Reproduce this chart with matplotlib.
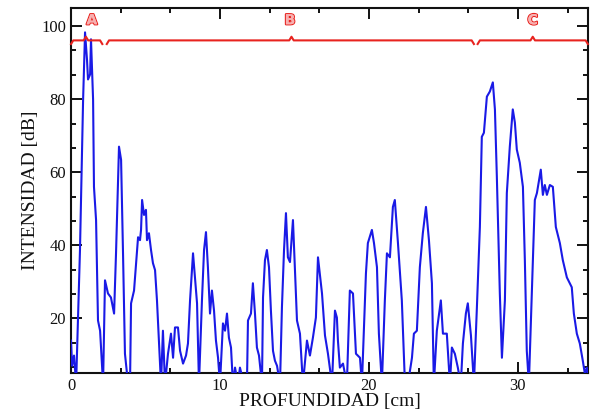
import numpy as np
import matplotlib
matplotlib.use("Agg")
import matplotlib.pyplot as plt
from matplotlib.ticker import MultipleLocator
import matplotlib.patheffects as pe

plt.rcParams['font.family'] = ['Liberation Serif', 'DejaVu Serif']

# profundidad [cm] e intensidad [dB]
profundidad = [0.00, 0.07, 0.20, 0.34, 0.60, 0.81, 0.94, 1.07, 1.14, 1.28, 1.34, 1.48, 1.54, 1.68,
               1.81, 1.95, 2.15, 2.28, 2.48, 2.68, 2.89, 3.02, 3.22, 3.36, 3.49, 3.62, 3.83, 3.96,
               4.03, 4.23, 4.50, 4.63, 4.70, 4.77, 4.90, 5.03, 5.10, 5.23, 5.37, 5.50, 5.64, 5.77,
               5.91, 6.04, 6.17, 6.31, 6.51, 6.71, 6.85, 6.98, 7.18, 7.32, 7.52, 7.72, 7.85, 7.99,
               8.19, 8.32, 8.46, 8.59, 8.79, 8.93, 9.06, 9.19, 9.33, 9.46, 9.60, 9.73, 9.87, 10.00,
               10.20, 10.34, 10.47, 10.60, 10.74, 10.87, 11.01, 11.21, 11.34, 11.61, 11.81, 11.88,
               12.08, 12.21, 12.35, 12.48, 12.62, 12.82, 12.89, 13.02, 13.15, 13.29, 13.42, 13.56,
               13.69, 13.83, 14.03, 14.16, 14.30, 14.43, 14.56, 14.70, 14.90, 15.17, 15.37, 15.57,
               15.84, 16.04, 16.24, 16.44, 16.58, 16.85, 17.05, 17.25, 17.52, 17.72, 17.85, 17.92,
               18.05, 18.26, 18.52, 18.72, 18.93, 19.13, 19.40, 19.53, 19.80, 19.93, 20.20, 20.34,
               20.54, 20.67, 20.87, 21.07, 21.21, 21.41, 21.61, 21.74, 21.95, 22.21, 22.42, 22.62,
               22.89, 23.02, 23.22, 23.42, 23.62, 23.83, 24.03, 24.23, 24.36, 24.56, 24.83, 24.97,
               25.23, 25.44, 25.57, 25.77, 25.97, 26.17, 26.31, 26.51, 26.64, 26.85, 27.05, 27.25,
               27.45, 27.58, 27.72, 27.92, 28.12, 28.32, 28.46, 28.59, 28.79, 28.93, 29.13, 29.26,
               29.46, 29.66, 29.80, 29.93, 30.13, 30.34, 30.47, 30.60, 30.74, 30.94, 31.14, 31.28,
               31.54, 31.68, 31.81, 31.95, 32.15, 32.35, 32.55, 32.82, 33.02, 33.29, 33.62, 33.76,
               33.96, 34.16, 34.36, 34.50, 34.63, 34.80]
intensidad = [13.9, 7.0, 9.8, 2.0, 38.7, 79.9, 98.3, 90.9, 85.4, 86.8, 96.4, 79.9, 56.0, 46.9,
              19.4, 16.6, 2.0, 30.4, 26.8, 25.7, 21.3, 37.8, 67.0, 63.4, 37.8, 10.3, 2.0, 2.0,
              24.1, 27.6, 42.2, 41.4, 44.2, 52.4, 48.3, 49.7, 41.4, 43.3, 38.7, 35.1, 33.2, 24.9,
              13.1, 2.0, 16.6, 2.0, 10.3, 15.8, 9.2, 17.5, 17.5, 11.1, 7.6, 9.8, 13.1, 24.9,
              37.8, 31.2, 24.1, 2.0, 24.9, 38.7, 43.6, 34.0, 21.3, 27.6, 22.1, 13.9, 9.2, 2.0,
              18.6, 16.6, 21.3, 14.7, 12.0, 2.0, 6.5, 2.0, 6.5, 2.0, 2.0, 19.4,
              21.3, 29.6, 21.3, 12.0, 9.8, 2.0, 25.7, 35.9, 38.7, 34.0, 22.1, 11.1,
              8.4, 7.0, 2.0, 23.0, 38.7, 48.8, 36.7, 35.4, 46.9, 19.4, 15.8, 2.0,
              13.9, 9.8, 14.7, 20.2, 36.7, 26.8, 15.3, 10.3, 2.0, 22.1, 20.2, 13.9,
              6.5, 7.6, 2.0, 27.6, 26.8, 10.3, 9.2, 2.0, 32.3, 40.6, 44.2, 40.6,
              34.0, 15.8, 2.0, 24.9, 37.8, 36.7, 50.5, 52.4, 40.6, 24.9, 2.0, 2.0,
              9.2, 15.8, 16.6, 34.0, 43.3, 50.5, 41.4, 29.6, 2.0, 16.6, 24.9, 15.8,
              15.8, 2.0, 12.0, 10.3, 6.5, 2.0, 13.1, 21.3, 24.1, 15.3, 2.0, 23.0,
              45.0, 69.7, 70.8, 80.7, 82.1, 84.6, 77.2, 58.7, 26.8, 9.2, 24.9, 54.3,
              67.0, 77.2, 73.6, 66.2, 62.6, 56.0, 35.9, 11.1, 2.0, 26.8, 52.4, 54.3,
              60.7, 53.8, 56.5, 53.8, 56.5, 56.0, 45.0, 40.6, 35.9, 31.2, 28.5, 21.3,
              15.8, 13.1, 8.4, 4.8, 6.5, 3.0]

# regiones marcadas arriba (inicio, centro, fin, etiqueta)
reg_inicio = [0.0, 2.4, 27.3]
reg_centro = [1.0, 14.8, 31.0]
reg_fin = [2.1, 27.05, 34.7]
reg_etiqueta = ['A', 'B', 'C']
etiqueta_x = [1.4, 14.7, 31.0]

fig = plt.figure(figsize=(5.92, 4.15), dpi=100)
ax = fig.add_axes([0.12, 0.101, 0.873, 0.880])

ax.plot(profundidad, intensidad, color='#1a1ae6', lw=1.5, zorder=3)

# llaves rojas
yb, h, d = 96.1, 1.0, 0.15
for x0, xc, x1, lab, xt in zip(reg_inicio, reg_centro, reg_fin, reg_etiqueta, etiqueta_x):
    xs = [x0, x0 + d, xc - d, xc, xc + d, x1 - d, x1]
    ys = [yb - h, yb, yb, yb + h, yb, yb, yb - h]
    ax.plot(xs, ys, color='#e8231f', lw=1.5, zorder=4, clip_on=False)
    t = ax.text(xt, 101.6, lab, color='#f7b0b0', fontsize=10, fontweight='bold',
                family='DejaVu Sans', ha='center', va='center', zorder=5)
    t.set_path_effects([pe.withStroke(linewidth=1.6, foreground='#e8231f'), pe.Normal()])

ax.set_xlim(0, 34.7)
ax.set_ylim(5, 105)
ax.xaxis.set_major_locator(MultipleLocator(10))
ax.xaxis.set_minor_locator(MultipleLocator(10 / 3))
ax.yaxis.set_major_locator(MultipleLocator(20))
ax.yaxis.set_minor_locator(MultipleLocator(20 / 3))
ax.set_yticks([20, 40, 60, 80, 100])

ax.tick_params(which='both', direction='in', top=True, right=True, width=1.4,
               labelsize=12, colors='#111111')
ax.tick_params(which='major', length=8)
ax.tick_params(which='minor', length=3.5)
for s in ax.spines.values():
    s.set_linewidth(1.5)
    s.set_color('#111111')

ax.set_xlabel('PROFUNDIDAD [cm]', fontsize=14, labelpad=-1, color='#111111')
ax.set_ylabel('INTENSIDAD [dB]', fontsize=14, labelpad=2, color='#111111')

fig.savefig('out.png', dpi=100)
